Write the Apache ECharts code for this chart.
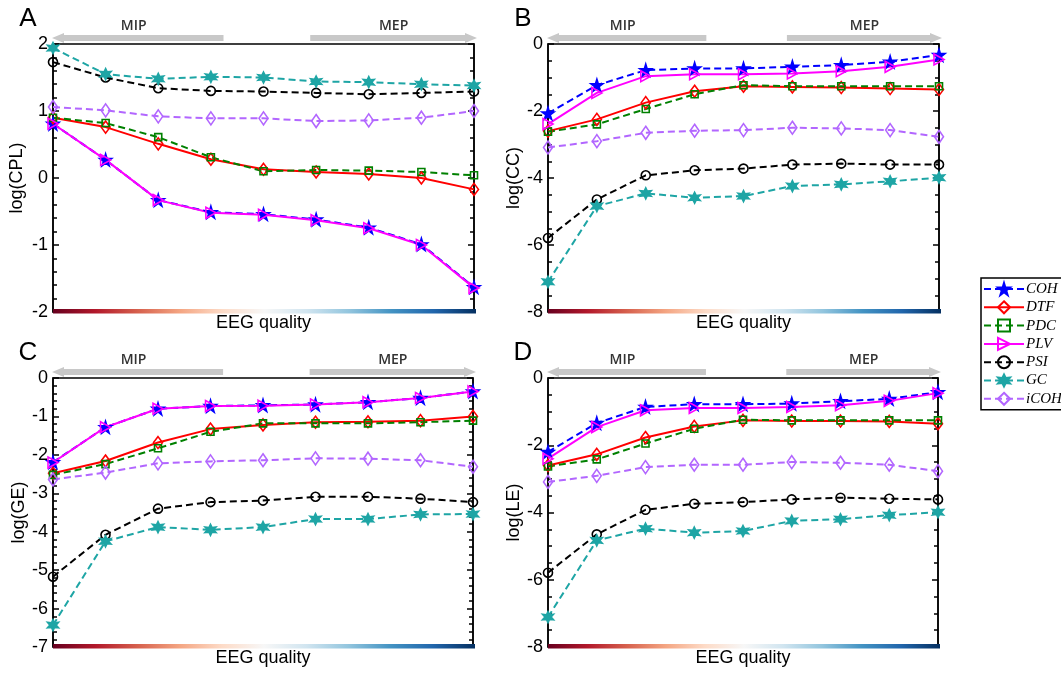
<!DOCTYPE html>
<html>
<head>
<meta charset="utf-8">
<script src="https://cdn.jsdelivr.net/npm/echarts@6/dist/echarts.min.js"></script>
<style>
  html, body { margin: 0; padding: 0; background: #fff; }
  #chart { width: 1061px; height: 673px; }
</style>
</head>
<body>
<div id="chart"></div>
<script>
// EEG quality levels (low -> high), shared x categories for every panel
const qualityLevels = ['1', '2', '3', '4', '5', '6', '7', '8', '9'];
const methods = ['COH', 'DTF', 'PDC', 'PLV', 'PSI', 'GC', 'iCOH'];

// Panel A: log(CPL)
const cplCOH  = [0.81, 0.27, -0.33, -0.51, -0.54, -0.62, -0.74, -0.99, -1.63];
const cplDTF  = [0.90, 0.76, 0.51, 0.28, 0.13, 0.09, 0.06, 0.00, -0.17];
const cplPDC  = [0.90, 0.82, 0.61, 0.31, 0.10, 0.12, 0.11, 0.09, 0.04];
const cplPLV  = [0.81, 0.27, -0.33, -0.52, -0.55, -0.63, -0.75, -1.00, -1.64];
const cplPSI  = [1.73, 1.50, 1.34, 1.30, 1.29, 1.27, 1.25, 1.27, 1.29];
const cplGC   = [1.94, 1.55, 1.48, 1.51, 1.50, 1.44, 1.43, 1.40, 1.38];
const cplICOH = [1.06, 1.01, 0.92, 0.89, 0.89, 0.85, 0.86, 0.90, 1.00];

// Panel B: log(CC)
const ccCOH  = [-2.07, -1.23, -0.78, -0.73, -0.73, -0.68, -0.63, -0.53, -0.33];
const ccDTF  = [-2.60, -2.25, -1.75, -1.41, -1.26, -1.28, -1.30, -1.33, -1.36];
const ccPDC  = [-2.62, -2.40, -1.94, -1.50, -1.23, -1.26, -1.26, -1.26, -1.26];
const ccPLV  = [-2.39, -1.46, -0.96, -0.90, -0.90, -0.88, -0.81, -0.68, -0.46];
const ccPSI  = [-5.79, -4.64, -3.92, -3.77, -3.72, -3.60, -3.57, -3.60, -3.60];
const ccGC   = [-7.10, -4.84, -4.46, -4.59, -4.54, -4.24, -4.19, -4.10, -3.99];
const ccICOH = [-3.09, -2.90, -2.65, -2.59, -2.57, -2.50, -2.52, -2.57, -2.77];

// Panel C: log(GE)
const geCOH  = [-2.19, -1.28, -0.80, -0.73, -0.71, -0.69, -0.63, -0.52, -0.35];
const geDTF  = [-2.48, -2.16, -1.68, -1.33, -1.22, -1.15, -1.14, -1.11, -1.00];
const gePDC  = [-2.52, -2.24, -1.83, -1.40, -1.18, -1.18, -1.18, -1.15, -1.11];
const gePLV  = [-2.20, -1.28, -0.80, -0.73, -0.72, -0.69, -0.63, -0.52, -0.35];
const gePSI  = [-5.17, -4.08, -3.40, -3.23, -3.19, -3.09, -3.09, -3.14, -3.23];
const geGC   = [-6.43, -4.25, -3.88, -3.95, -3.88, -3.67, -3.67, -3.55, -3.54];
const geICOH = [-2.64, -2.46, -2.22, -2.17, -2.14, -2.09, -2.10, -2.14, -2.31];

// Panel D: log(LE)
const leCOH  = [-2.20, -1.34, -0.86, -0.78, -0.78, -0.76, -0.69, -0.62, -0.42];
const leDTF  = [-2.60, -2.27, -1.77, -1.44, -1.26, -1.28, -1.28, -1.29, -1.36];
const lePDC  = [-2.63, -2.42, -1.95, -1.51, -1.24, -1.26, -1.26, -1.26, -1.26];
const lePLV  = [-2.40, -1.46, -0.96, -0.89, -0.89, -0.86, -0.81, -0.68, -0.45];
const lePSI  = [-5.79, -4.65, -3.92, -3.74, -3.69, -3.61, -3.56, -3.59, -3.61];
const leGC   = [-7.11, -4.83, -4.48, -4.60, -4.55, -4.25, -4.20, -4.08, -3.99];
const leICOH = [-3.09, -2.91, -2.65, -2.58, -2.58, -2.50, -2.52, -2.58, -2.77];

// Marker shapes
const STAR5 = 'path://M50,0 L61,35 L98,35 L68,57 L79,91 L50,70 L21,91 L32,57 L2,35 L39,35 Z';
const HEXAGRAM = 'path://M50,0 L62,29 L93,25 L74,50 L93,75 L62,71 L50,100 L38,71 L7,75 L26,50 L7,25 L38,29 Z';
const TRI_RIGHT = 'path://M0,0 L100,50 L0,100 Z';

const DASH = [7, 4];
const styles = {
  COH:  { color: '#0000ff', dash: DASH,    symbol: STAR5,     size: 12,      fill: true },
  DTF:  { color: '#ff0000', dash: 'solid', symbol: 'diamond', size: [9, 12], fill: false },
  PDC:  { color: '#008000', dash: DASH,    symbol: 'rect',    size: 7,       fill: false },
  PLV:  { color: '#ff00ff', dash: 'solid', symbol: TRI_RIGHT, size: [10, 11], fill: false },
  PSI:  { color: '#000000', dash: DASH,    symbol: 'circle',  size: 9,       fill: false },
  GC:   { color: '#1ea5a5', dash: DASH,    symbol: HEXAGRAM,  size: 11,      fill: true },
  iCOH: { color: '#b266ff', dash: DASH,    symbol: 'diamond', size: [9, 13], fill: false }
};

const panels = [
  { letter: 'A', yName: 'log(CPL)', nameGap: 27, min: -2, max: 2, interval: 1, split: 5,
    left: 53, top: 44, width: 421, height: 268,
    data: [cplCOH, cplDTF, cplPDC, cplPLV, cplPSI, cplGC, cplICOH] },
  { letter: 'B', yName: 'log(CC)', nameGap: 22, min: -8, max: 0, interval: 2, split: 4,
    left: 548, top: 44, width: 391, height: 268,
    data: [ccCOH, ccDTF, ccPDC, ccPLV, ccPSI, ccGC, ccICOH] },
  { letter: 'C', yName: 'log(GE)', nameGap: 24, min: -7, max: 0, interval: 1, split: 5,
    left: 53, top: 378, width: 420, height: 269,
    data: [geCOH, geDTF, gePDC, gePLV, gePSI, geGC, geICOH] },
  { letter: 'D', yName: 'log(LE)', nameGap: 22, min: -8, max: 0, interval: 2, split: 4,
    left: 548, top: 378, width: 390, height: 269,
    data: [leCOH, leDTF, lePDC, lePLV, lePSI, leGC, leICOH] }
];

const SANS = 'Liberation Sans, Arial, sans-serif';
const grids = [], xAxes = [], yAxes = [], series = [], graphics = [];

panels.forEach((p, i) => {
  grids.push({
    left: p.left, top: p.top, width: p.width, height: p.height,
    show: true, borderColor: '#000', borderWidth: 1.5, backgroundColor: 'transparent'
  });
  xAxes.push({
    type: 'category', gridIndex: i, data: qualityLevels, boundaryGap: false,
    axisLine: { show: false }, axisTick: { show: false }, axisLabel: { show: false },
    splitLine: { show: false },
    name: 'EEG quality', nameLocation: 'middle', nameGap: 2,
    nameTextStyle: { fontFamily: SANS, fontSize: 18, color: '#000', verticalAlign: 'top' }
  });
  const yBase = {
    type: 'value', gridIndex: i, min: p.min, max: p.max, interval: p.interval,
    splitLine: { show: false },
    axisLine: { show: true, lineStyle: { color: '#000', width: 1.5 } },
    axisTick: { show: true, inside: true, length: 6, lineStyle: { color: '#000', width: 1.5 } },
    minorTick: { show: true, splitNumber: p.split, length: 4, lineStyle: { color: '#000', width: 1.5 } }
  };
  yAxes.push(Object.assign({}, yBase, {
    position: 'left',
    axisLabel: { show: true, fontFamily: SANS, fontSize: 18, color: '#000', margin: 5 },
    name: p.yName, nameLocation: 'middle', nameGap: p.nameGap,
    nameTextStyle: { fontFamily: SANS, fontSize: 18, color: '#000' }
  }));
  yAxes.push(Object.assign({}, yBase, {
    position: 'right', axisLabel: { show: false }
  }));

  methods.forEach((m, k) => {
    const s = styles[m];
    series.push({
      name: m, type: 'line', xAxisIndex: i, yAxisIndex: i * 2,
      data: p.data[k],
      symbol: s.symbol, symbolSize: s.size, showAllSymbol: true,
      lineStyle: { color: s.color, width: 2, type: s.dash },
      itemStyle: { color: s.fill ? s.color : 'rgba(255,255,255,0)', borderColor: s.color, borderWidth: 1.6 },
      emphasis: { disabled: true },
      animation: false
    });
  });

  const x0 = p.left, x1 = p.left + p.width, yb = p.top + p.height;
  // quality colour bar along the bottom edge
  graphics.push({
    type: 'rect', z: 100,
    shape: { x: x0, y: yb - 3, width: p.width + 2, height: 4.5 },
    style: {
      fill: new echarts.graphic.LinearGradient(0, 0, 1, 0, [
        { offset: 0.0, color: '#67001f' }, { offset: 0.1, color: '#b2182b' },
        { offset: 0.2, color: '#d6604d' }, { offset: 0.3, color: '#f4a582' },
        { offset: 0.4, color: '#fddbc7' }, { offset: 0.5, color: '#f7f7f7' },
        { offset: 0.6, color: '#d1e5f0' }, { offset: 0.7, color: '#92c5de' },
        { offset: 0.8, color: '#4393c3' }, { offset: 0.9, color: '#2166ac' },
        { offset: 1.0, color: '#053061' }
      ])
    }
  });
  // MIP / MEP direction arrows above the plot
  const ay = p.top - 6;
  const mipEnd = x0 + p.width * 0.405;
  const mepStart = x0 + p.width * 0.611;
  const tipL = x0 - 1, tipR = x1 + 3;
  graphics.push({
    type: 'polygon', z: 90,
    shape: { points: [[tipL, ay], [tipL + 12, ay - 5], [tipL + 12, ay - 3], [mipEnd, ay - 3],
                      [mipEnd, ay + 3], [tipL + 12, ay + 3], [tipL + 12, ay + 5]] },
    style: { fill: '#c8c8c8' }
  });
  graphics.push({
    type: 'polygon', z: 90,
    shape: { points: [[tipR, ay], [tipR - 12, ay - 5], [tipR - 12, ay - 3], [mepStart, ay - 3],
                      [mepStart, ay + 3], [tipR - 12, ay + 3], [tipR - 12, ay + 5]] },
    style: { fill: '#c8c8c8' }
  });
  graphics.push({
    type: 'text', z: 90, x: (tipL + mipEnd) / 2 - 4, y: ay - 12,
    style: { text: 'MIP', fontFamily: 'Open Sans, sans-serif', fontWeight: 600, fontSize: 14,
             fill: '#333', align: 'center', verticalAlign: 'middle' }
  });
  graphics.push({
    type: 'text', z: 90, x: (mepStart + tipR) / 2, y: ay - 12,
    style: { text: 'MEP', fontFamily: 'Open Sans, sans-serif', fontWeight: 600, fontSize: 14,
             fill: '#333', align: 'center', verticalAlign: 'middle' }
  });
  // panel letter
  graphics.push({
    type: 'text', z: 90, x: x0 - 25, y: p.top - 25,
    style: { text: p.letter, fontFamily: SANS, fontSize: 26, fill: '#000',
             align: 'center', verticalAlign: 'middle' }
  });
});

const chart = echarts.init(document.getElementById('chart'), null, { renderer: 'canvas' });
chart.setOption({
  animation: false,
  backgroundColor: '#fff',
  grid: grids,
  xAxis: xAxes,
  yAxis: yAxes,
  series: series,
  graphic: graphics,
  legend: {
    data: methods,
    orient: 'vertical', left: 981, top: 278,
    itemWidth: 40, itemHeight: 15, itemGap: 3.3,
    padding: [3.5, 4, 3.5, 2],
    borderColor: '#000', borderWidth: 1.5, backgroundColor: '#fff',
    selectedMode: false,
    textStyle: { fontFamily: 'Liberation Serif, Times New Roman, serif', fontStyle: 'italic',
                 fontSize: 15, lineHeight: 15, color: '#000', padding: [0, 0, 0, -3] }
  }
});
</script>
</body>
</html>
